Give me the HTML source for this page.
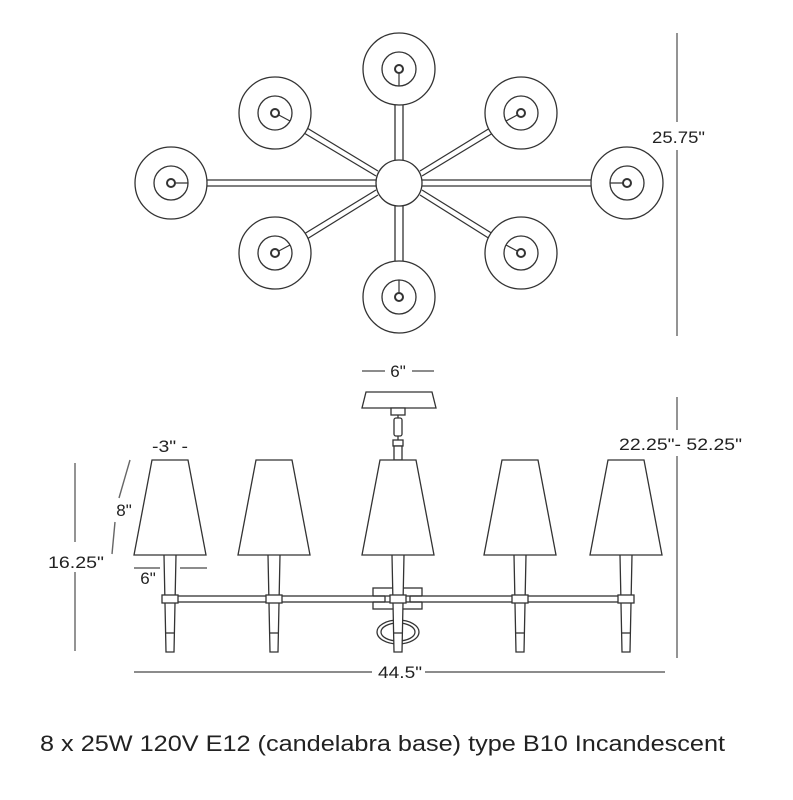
<!DOCTYPE html>
<html><head><meta charset="utf-8"><style>
html,body{margin:0;padding:0;background:#fff;}
svg{display:block;}
text{font-family:"Liberation Sans",sans-serif;fill:#222;}
</style></head><body>
<svg width="793" height="800" viewBox="0 0 793 800" xmlns="http://www.w3.org/2000/svg">
<g stroke="#333" stroke-width="1.3" fill="none">
 <g>
  <line x1="395" y1="160" x2="395" y2="103"/><line x1="403" y1="160" x2="403" y2="103"/>
  <line x1="395" y1="206" x2="395" y2="262"/><line x1="403" y1="206" x2="403" y2="262"/>
  <line x1="207" y1="180" x2="376" y2="180"/><line x1="207" y1="186" x2="376" y2="186"/>
  <line x1="422" y1="180" x2="591" y2="180"/><line x1="422" y1="186" x2="591" y2="186"/>
  <line x1="307" y1="128" x2="378" y2="171"/><line x1="304" y1="133" x2="376" y2="176"/>
  <line x1="490" y1="128" x2="420" y2="171"/><line x1="493" y1="133" x2="422" y2="176"/>
  <line x1="304" y1="234" x2="376" y2="190"/><line x1="307" y1="239" x2="378" y2="195"/>
  <line x1="493" y1="234" x2="422" y2="190"/><line x1="490" y1="239" x2="420" y2="195"/>
 </g>
 <circle cx="399" cy="183" r="23" fill="#fff"/>
 <g fill="#fff">
  <circle cx="399" cy="69" r="36"/><circle cx="399" cy="69" r="17"/>
  <circle cx="171" cy="183" r="36"/><circle cx="171" cy="183" r="17"/>
  <circle cx="627" cy="183" r="36"/><circle cx="627" cy="183" r="17"/>
  <circle cx="275" cy="113" r="36"/><circle cx="275" cy="113" r="17"/>
  <circle cx="521" cy="113" r="36"/><circle cx="521" cy="113" r="17"/>
  <circle cx="275" cy="253" r="36"/><circle cx="275" cy="253" r="17"/>
  <circle cx="521" cy="253" r="36"/><circle cx="521" cy="253" r="17"/>
  <circle cx="399" cy="297" r="36"/><circle cx="399" cy="297" r="17"/>
 </g>
 <g stroke-width="1.2">
  <line x1="399" y1="69" x2="399" y2="86"/><line x1="171" y1="183" x2="188" y2="183"/><line x1="627" y1="183" x2="610" y2="183"/>
  <line x1="275" y1="113" x2="290" y2="121"/><line x1="521" y1="113" x2="506" y2="121"/>
  <line x1="275" y1="253" x2="290" y2="245"/><line x1="521" y1="253" x2="506" y2="245"/>
  <line x1="399" y1="297" x2="399" y2="280"/>
 </g>
 <g stroke-width="2" fill="#fff">
  <circle cx="399" cy="69" r="4"/><circle cx="171" cy="183" r="4"/><circle cx="627" cy="183" r="4"/>
  <circle cx="275" cy="113" r="4"/><circle cx="521" cy="113" r="4"/><circle cx="275" cy="253" r="4"/>
  <circle cx="521" cy="253" r="4"/><circle cx="399" cy="297" r="4"/>
 </g>

 <g stroke="#666" stroke-width="1.4">
  <line x1="677" y1="33" x2="677" y2="122"/><line x1="677" y1="150" x2="677" y2="336"/>
  <line x1="677" y1="397" x2="677" y2="430"/><line x1="677" y1="456" x2="677" y2="658"/>
  <line x1="75" y1="463" x2="75" y2="542"/><line x1="75" y1="572" x2="75" y2="651"/>
  <line x1="130" y1="460" x2="119" y2="498"/><line x1="115" y1="522" x2="112" y2="554"/>
  <line x1="134" y1="568" x2="160" y2="568"/><line x1="180" y1="568" x2="207" y2="568"/>
  <line x1="134" y1="672" x2="372" y2="672"/><line x1="425" y1="672" x2="665" y2="672"/>
  <line x1="362" y1="371" x2="385" y2="371"/><line x1="412" y1="371" x2="434" y2="371"/>
 </g>

 <path d="M366 392 H432 L436 408 H362 Z" fill="#fff"/>
 <rect x="391" y="408" width="14" height="7" fill="#fff"/>
 <rect x="394" y="418" width="8" height="18" rx="2" fill="#fff"/>
 <line x1="398" y1="415" x2="398" y2="418"/><line x1="398" y1="436" x2="398" y2="440"/>
 <rect x="393" y="440" width="10" height="6" fill="#fff"/>
 <rect x="394" y="446" width="8" height="14" fill="#fff"/>

 <rect x="373" y="588" width="49" height="21" fill="#fff"/>
 <rect x="164" y="596" width="468" height="6" fill="#fff"/>
 <line x1="373" y1="596" x2="385" y2="596"/><line x1="373" y1="602" x2="385" y2="602"/>
 <line x1="410" y1="596" x2="422" y2="596"/><line x1="410" y1="602" x2="422" y2="602"/>
 <rect x="374" y="597" width="10" height="4" fill="#fff" stroke="none"/>
 <rect x="411" y="597" width="10" height="4" fill="#fff" stroke="none"/>
 <line x1="385" y1="596" x2="385" y2="602"/><line x1="410" y1="596" x2="410" y2="602"/>
 <ellipse cx="398" cy="632" rx="21" ry="12"/>
 <ellipse cx="398" cy="632" rx="17" ry="9"/>

 <g fill="#fff">
  <path d="M164 555 L166 652 H174 L176 555"/><line x1="166" y1="633" x2="174" y2="633"/><rect x="162" y="595" width="16" height="8"/><path d="M152 460 H188 L206 555 H134 Z"/>
  <path d="M268 555 L270 652 H278 L280 555"/><line x1="270" y1="633" x2="278" y2="633"/><rect x="266" y="595" width="16" height="8"/><path d="M256 460 H292 L310 555 H238 Z"/>
  <path d="M392 555 L394 652 H402 L404 555"/><line x1="394" y1="633" x2="402" y2="633"/><rect x="390" y="595" width="16" height="8"/><path d="M380 460 H416 L434 555 H362 Z"/>
  <path d="M514 555 L516 652 H524 L526 555"/><line x1="516" y1="633" x2="524" y2="633"/><rect x="512" y="595" width="16" height="8"/><path d="M502 460 H538 L556 555 H484 Z"/>
  <path d="M620 555 L622 652 H630 L632 555"/><line x1="622" y1="633" x2="630" y2="633"/><rect x="618" y="595" width="16" height="8"/><path d="M608 460 H644 L662 555 H590 Z"/>
 </g>
</g>

<g font-size="17">
 <rect x="650" y="124" width="56" height="22" fill="#fff"/>
 <text x="652" y="143" textLength="53" lengthAdjust="spacingAndGlyphs">25.75"</text>
 <rect x="618" y="432" width="126" height="22" fill="#fff"/>
 <text x="619" y="450" textLength="123" lengthAdjust="spacingAndGlyphs">22.25"- 52.25"</text>
 <text x="398" y="377" text-anchor="middle">6"</text>
 <text x="152" y="452" textLength="36" lengthAdjust="spacingAndGlyphs">-3" -</text>
 <text x="124" y="516" text-anchor="middle">8"</text>
 <text x="148" y="584" text-anchor="middle">6"</text>
 <text x="48" y="568" textLength="56" lengthAdjust="spacingAndGlyphs">16.25"</text>
 <text x="378" y="678" textLength="44" lengthAdjust="spacingAndGlyphs">44.5"</text>
</g>
<text x="40" y="751" font-size="22" textLength="685" lengthAdjust="spacingAndGlyphs">8 x 25W 120V E12 (candelabra base) type B10 Incandescent</text>
</svg>
</body></html>
